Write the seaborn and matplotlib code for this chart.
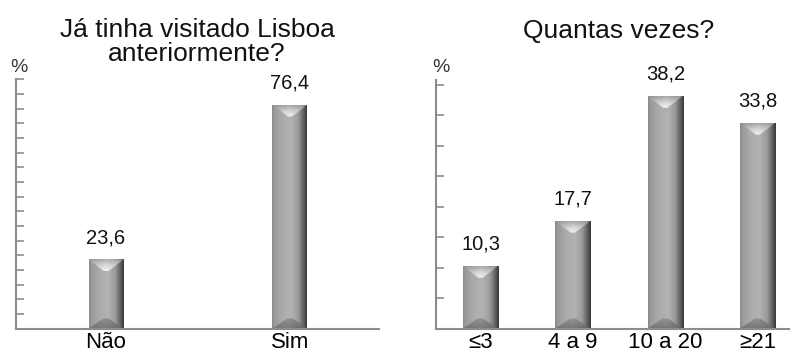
import numpy as np
import pandas as pd
import matplotlib
matplotlib.use("Agg")
import matplotlib.pyplot as plt
import seaborn as sns
from matplotlib.patches import Polygon

# Survey results
visit_title = "Já tinha visitado Lisboa\nanteriormente?"
visit_categories = ["Não", "Sim"]
visit_values = [23.6, 76.4]
visit_ticks = list(range(0, 90, 5))

times_title = "Quantas vezes?"
times_categories = ["≤3", "4 a 9", "10 a 20", "≥21"]
times_values = [10.3, 17.7, 38.2, 33.8]
times_ticks = list(range(0, 45, 5))

sns.set_theme(style="white")
plt.rcParams["font.family"] = ["Liberation Sans", "DejaVu Sans"]

W, H, DPI = 790, 356, 100
fig = plt.figure(figsize=(W / DPI, H / DPI), dpi=DPI)

AXIS_GREY = "#8c8c8c"


def px_box(left, top, right, bottom):
    return [left / W, 1 - bottom / H, (right - left) / W, (bottom - top) / H]


def bevel_bar(ax, patch, top_px=12, bottom_px=10):
    """Paint a bevelled, shaded look on top of a plain bar patch."""
    x0, y0 = patch.get_x(), patch.get_y()
    w, h = patch.get_width(), patch.get_height()
    x1, y1 = x0 + w, y0 + h
    xc = x0 + w / 2
    # convert bevel depths from pixels to data units
    inv = ax.transData.inverted()
    unit = abs(inv.transform((0, 1))[1] - inv.transform((0, 0))[1])
    dt, db = top_px * unit, bottom_px * unit

    # body: horizontal shading, light centre and dark right edge
    xs = np.linspace(0, 1, 200)
    prof = np.interp(xs, [0, 0.06, 0.3, 0.55, 0.75, 0.9, 1.0],
                     [0.53, 0.60, 0.67, 0.70, 0.61, 0.38, 0.22])
    img = ax.imshow(prof[None, :], cmap="gray", vmin=0, vmax=1,
                    extent=(x0, x1, y0, y1), aspect="auto",
                    interpolation="bilinear", zorder=3)
    img.set_clip_path(patch)

    # top bevel (light, V-shaped)
    top = Polygon([(x0, y1), (x1, y1), (xc + 0.06 * w, y1 - dt),
                   (xc - 0.06 * w, y1 - dt)], closed=True,
                  facecolor="none", edgecolor="none", zorder=4)
    ax.add_patch(top)
    vt = np.linspace(0, 1, 100)
    gt = np.interp(vt, [0, 0.45, 1], [0.95, 0.86, 0.66])[:, None]
    gt = gt * np.interp(np.linspace(0, 1, 100), [0, 0.5, 0.85, 1],
                        [0.86, 1.0, 0.9, 0.70])[None, :]
    im2 = ax.imshow(gt, cmap="gray", vmin=0, vmax=1, origin="lower",
                    extent=(x0, x1, y1 - dt, y1), aspect="auto",
                    interpolation="bilinear", zorder=4)
    im2.set_clip_path(top)

    # bottom bevel (darker)
    bot = Polygon([(x0, y0), (x1, y0), (xc + 0.08 * w, y0 + db),
                   (xc - 0.08 * w, y0 + db)], closed=True,
                  facecolor="none", edgecolor="none", zorder=4)
    ax.add_patch(bot)
    gb = np.interp(vt, [0, 1], [0.48, 0.58])[:, None]
    gb = gb * np.interp(np.linspace(0, 1, 100), [0, 0.5, 0.85, 1],
                        [0.95, 1.0, 0.88, 0.7])[None, :]
    im3 = ax.imshow(gb, cmap="gray", vmin=0, vmax=1, origin="lower",
                    extent=(x0, x1, y0, y0 + db), aspect="auto",
                    interpolation="bilinear", zorder=4)
    im3.set_clip_path(bot)


def panel(box, categories, values, ticks, xlim, ylim, width, title,
          title_xy, pct_xy):
    ax = fig.add_axes(px_box(*box))
    df = pd.DataFrame({"cat": categories, "val": values})
    sns.barplot(data=df, x="cat", y="val", ax=ax, color="#a8a8a8",
                width=width, saturation=1, zorder=2)
    ax.set_xlim(*xlim)
    ax.set_ylim(*ylim)
    ax.set_xlabel("")
    ax.set_ylabel("")
    ax.set_yticks(ticks)
    ax.set_yticklabels([])
    ax.tick_params(axis="y", direction="in", length=6, width=1.2,
                   color=AXIS_GREY, left=True)
    ax.tick_params(axis="x", length=0, pad=2.5, labelsize=16,
                   labelcolor="black")
    for s in ("top", "right"):
        ax.spines[s].set_visible(False)
    for s in ("left", "bottom"):
        ax.spines[s].set_color(AXIS_GREY)
        ax.spines[s].set_linewidth(1.5)
    ax.set_facecolor("white")

    for patch, v in zip(ax.patches, values):
        bevel_bar(ax, patch)
        ax.annotate(f"{v:.1f}".replace(".", ","),
                    (patch.get_x() + patch.get_width() / 2, v),
                    xytext=(0, 16), textcoords="offset pixels",
                    ha="center", va="baseline", fontsize=14.5,
                    color="#111111")
    ax.set_xlim(*xlim)
    ax.set_ylim(*ylim)

    fig.text(title_xy[0] / W, 1 - title_xy[1] / H, title, ha="center",
             va="center", fontsize=19, color="#111111", linespacing=0.95)
    fig.text(pct_xy[0] / W, 1 - pct_xy[1] / H, "%", ha="center",
             va="center", fontsize=14, color="#333333")
    return ax


panel((15.7, 79.3, 379, 328.5), visit_categories, visit_values,
      visit_ticks, (-0.491, 1.484), (0, 85), 0.19, visit_title,
      (197, 42), (19, 67))
panel((435.7, 80, 790, 328.5), times_categories, times_values,
      times_ticks, (-0.485, 3.35), (0, 40.8), 0.38, times_title,
      (619, 31), (441, 67))

fig.savefig("out.png", dpi=DPI)
